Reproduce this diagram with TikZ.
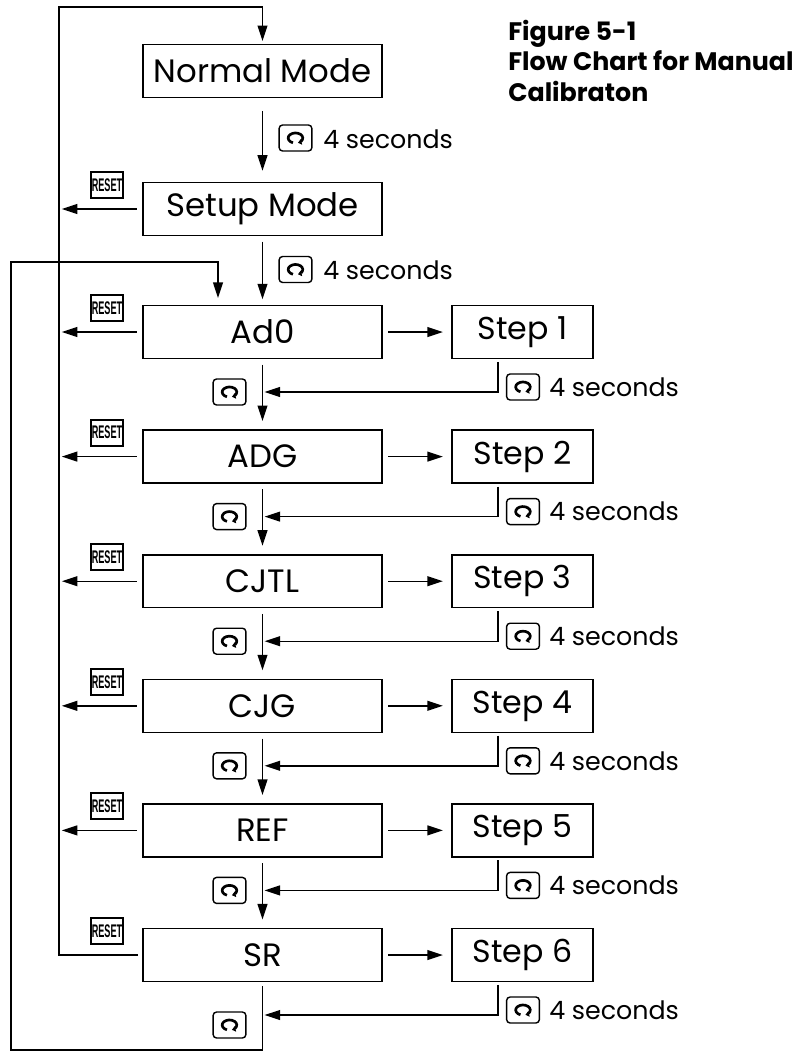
\documentclass[tikz,border=0pt]{standalone}
\usepackage{fontspec}
\setmainfont{Poppins}
\newfontfamily\keyfont{Liberation Sans}
\usepackage{graphicx}
\usepackage{tikz}
\usetikzlibrary{positioning, arrows.meta}

\tikzset{
  modebox/.style={draw, line width=1pt, minimum width=5.975cm, minimum height=1.32cm, inner sep=0pt, font=\fontsize{23}{23}\selectfont},
  stepbox/.style={draw, line width=1pt, minimum width=3.525cm, minimum height=1.32cm, inner sep=0pt, font=\fontsize{22.5}{22.5}\selectfont},
  arr/.style={line width=1pt, -{Triangle[length=11pt,width=7pt]}},
  wire/.style={line width=1pt},
  scrollkey/.style={draw, rounded corners=2.5pt, line width=1pt, minimum width=0.82cm, minimum height=0.65cm, inner sep=0pt},
  resetkey/.style={draw, line width=1.3pt, minimum width=0.8cm, minimum height=0.65cm, inner sep=0pt, font=\keyfont\bfseries\fontsize{13}{13}\selectfont},
  secs/.style={anchor=west, inner sep=0pt, font=\fontsize{18}{18}\selectfont},
  headline/.style={anchor=base west, inner sep=0pt, font=\bfseries\fontsize{18}{18}\selectfont},
  scroll/.pic={
    \node[scrollkey] (-key) {};
    \draw[line width=1.9pt, x=1pt, y=1pt, -{Triangle[length=2.6pt,width=4pt]}] (-1.8,-3.4) arc[start angle=250, end angle=-70, x radius=5.2, y radius=3.6];
  }
}

\begin{document}
\begin{tikzpicture}[x=0.025cm, y=-0.025cm]
\useasboundingbox (0,0) rectangle (806,1052);

% title
\node[headline] (fig) at (508,40) {Figure 5-1};
\node[headline] (flow) at (508,70) {Flow Chart for Manual};
\node[headline] (cal) at (508,101) {Calibraton};

% mode boxes
\node[modebox] (normal) at (262.5,71) {Normal Mode};
\node[modebox] (setup) at (262.5,209) {Setup Mode};

\draw[arr, shorten <=9pt, shorten >=8pt] (normal) -- (setup);
\pic (skn) at (295.5,138) {scroll};
\node[secs] (secn) at (323,139) {4 seconds};

\pic (sks) at (295.5,269.5) {scroll};
\node[secs] (secs) at (323,270) {4 seconds};

% left wires
\coordinate (topleft) at (59,7);
\coordinate (botleft) at (11,1050);
\coordinate (loopin) at (218,262);

\node[resetkey] (rss) at (107,185) {\scalebox{0.5}[1]{RESET}};
\draw[arr, shorten >=2pt] ([xshift=-4pt]setup.west) -- (setup.west -| topleft);

% calibration steps
\foreach \name/\txt/\n in {ad0/Ad0/1, adg/ADG/2, cjtl/CJTL/3, cjg/CJG/4, ref/REF/5, sr/SR/6} {
  \pgfmathsetmacro{\yc}{332+124.6*(\n-1)}
  \pgfmathsetmacro{\yr}{\yc+60}
  \node[modebox] (\name) at (262.5,\yc) {\txt};
  \node[stepbox] (st\n) at (522.5,\yc) {Step \n};
  \node[resetkey] (rs\n) at (107,\yc-24) {\scalebox{0.5}[1]{RESET}};
  \draw[arr, shorten <=4pt, shorten >=6pt] (\name) -- (st\n);
  \coordinate (ret\n) at (262.5,\yr);
  \draw[arr, shorten <=2pt, shorten >=1.5pt] ([xshift=-0.6125cm]st\n.south) |- (ret\n);
  \pic (skr\n) at (523,\yr-5) {scroll};
  \node[secs] (secr\n) at (549,\yr-5) {4 seconds};
}

\draw[arr, shorten <=4pt, shorten >=4pt] (setup) -- (ad0);

% reset arrows and main arrows between the rows
\foreach \name/\next/\n in {ad0/adg/1, adg/cjtl/2, cjtl/cjg/3, cjg/ref/4, ref/sr/5} {
  \draw[arr, shorten >=2pt] ([xshift=-4pt]\name.west) -- (\name.west -| topleft);
  \draw[arr, shorten <=4pt, shorten >=6pt] (\name) -- (\next);
  \pic (skl\n) at (229.5,392+124.6*\n-124.6) {scroll};
}

% loop back to normal mode and to ad0
\draw[arr, shorten >=2pt] ([xshift=-3pt]sr.west) -| (topleft) -| (normal.north);
\draw[arr, shorten >=5pt] ([yshift=-3pt]sr.south) |- (botleft) |- (loopin) -- (loopin |- ad0.north);
\pic (skl6) at (229.5,1025) {scroll};
\end{tikzpicture}
\end{document}
